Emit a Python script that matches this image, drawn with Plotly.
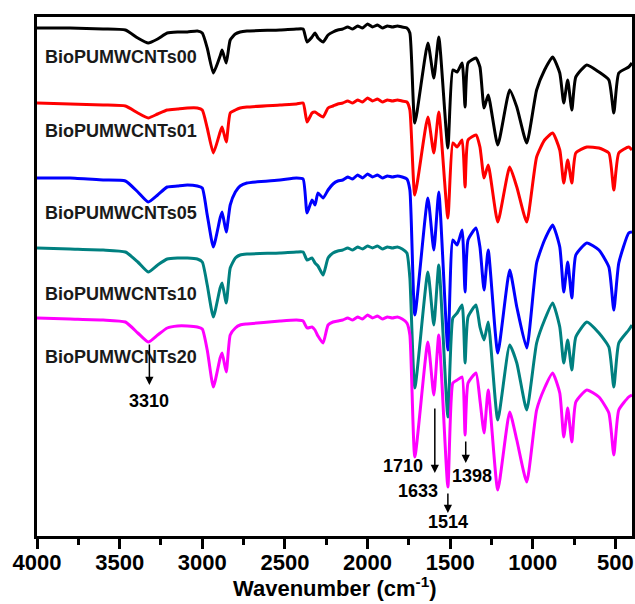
import plotly.graph_objects as go

# Wavenumber grid (cm^-1)
WN = [4000, 3800, 3600, 3465, 3390, 3327, 3270, 3212, 3150, 3090, 3030, 3000, 2970, 2933, 2892, 2880, 2855, 2831, 2800, 2771, 2730,
      2530, 2430, 2390, 2366, 2336, 2318, 2300, 2269, 2239, 2209,
      2180, 2150, 2120, 2090, 2060, 2030, 2000, 1970, 1940, 1910, 1880, 1850, 1820, 1790,
      1762, 1744, 1714, 1635, 1599, 1569, 1514, 1484, 1458, 1428, 1410, 1392, 1344, 1320, 1295, 1270, 1212,
      1140, 1097, 1037, 977, 929, 880, 837, 813, 789, 764, 740, 673, 600, 540, 510, 480, 420, 400]

# Stacked transmittance (a.u.)
T00 = [508, 508, 507, 506, 498, 493, 497, 503, 504, 504, 505, 503, 488, 463, 480, 486, 473, 496, 502, 504, 505,
       506, 507, 507, 494, 499, 503, 498, 494, 501, 504,
       506, 507, 509, 507, 510, 508, 512, 509, 511, 508, 510, 509, 510, 509,
       508, 503, 413, 493, 458, 499, 388, 466, 464, 473, 429, 473, 478, 469, 428, 441, 391,
       446, 429, 393, 446, 466, 479, 463, 433, 456, 426, 459, 471, 464, 456, 423, 463, 469, 473]
T01 = [433, 432, 431, 430, 423, 418, 422, 426, 427, 428, 428, 426, 408, 383, 404, 409, 394, 423, 426, 428, 429,
       431, 432, 433, 414, 423, 424, 422, 419, 428, 430,
       432, 433, 435, 433, 436, 434, 438, 435, 437, 434, 436, 435, 436, 435,
       434, 426, 341, 419, 383, 424, 318, 393, 389, 396, 349, 396, 401, 389, 358, 371, 314,
       369, 349, 314, 379, 396, 403, 386, 353, 376, 353, 383, 389, 388, 383, 346, 383, 389, 386]
T05 = [358, 358, 356, 355, 344, 334, 341, 349, 350, 351, 350, 348, 321, 289, 318, 324, 304, 331, 344, 350, 353,
       356, 358, 357, 323, 336, 331, 343, 338, 346, 352,
       355, 356, 359, 357, 361, 358, 362, 359, 361, 358, 360, 359, 360, 359,
       357, 346, 221, 338, 286, 344, 186, 296, 291, 306, 244, 296, 308, 289, 246, 286, 183,
       266, 229, 188, 273, 296, 311, 289, 244, 274, 238, 281, 293, 286, 269, 226, 273, 303, 304]
T10 = [288, 287, 286, 284, 274, 264, 271, 277, 278, 278, 277, 274, 251, 219, 248, 253, 233, 268, 278, 281, 282,
       283, 284, 284, 276, 278, 273, 270, 261, 278, 283,
       285, 286, 288, 286, 289, 287, 290, 288, 290, 287, 289, 288, 289, 287,
       283, 258, 148, 264, 211, 271, 119, 218, 223, 231, 173, 219, 231, 209, 196, 214, 116,
       191, 173, 126, 193, 216, 233, 209, 173, 196, 166, 199, 214, 203, 189, 149, 193, 206, 211]
T20 = [218, 217, 216, 214, 203, 194, 201, 208, 210, 210, 209, 207, 186, 149, 178, 183, 164, 201, 208, 211, 212,
       215, 216, 215, 208, 209, 206, 200, 193, 211, 214,
       215, 216, 218, 216, 219, 217, 221, 218, 220, 217, 219, 218, 219, 217,
       213, 201, 79, 194, 141, 201, 49, 153, 156, 159, 101, 153, 163, 136, 103, 146, 46,
       124, 96, 54, 126, 148, 163, 143, 99, 128, 94, 134, 146, 139, 123, 81, 126, 139, 141]

NAMES = ["BioPUMWCNTs00", "BioPUMWCNTs01", "BioPUMWCNTs05", "BioPUMWCNTs10", "BioPUMWCNTs20"]
SERIES = [T00, T01, T05, T10, T20]
COLORS = ["#000000", "#FF0000", "#0000FF", "#008080", "#FF00FF"]
LABEL_Y = [479, 405, 323, 242, 179]

# Peak markers: (label, arrow x, arrow tail y, arrow head y, text x, text y)
PEAKS = [("3310", 3320, 193, 151, 3320, 135),
         ("1633", 1593, 129, 63, 1696, 45),
         ("1514", 1514, 44, 23, 1514, 14),
         ("1398", 1406, 96, 73, 1370, 60)]
EXTRA_TEXT = [("1710", 1786, 70)]

FONT = "Liberation Sans, Arial, sans-serif"

fig = go.Figure()
for name, ys, col in zip(NAMES, SERIES, COLORS):
    fig.add_trace(go.Scatter(x=WN, y=ys, mode="lines", name=name,
                             line=dict(color=col, width=3, shape="spline", smoothing=0.5),
                             showlegend=False))

ann = []
for name, ly in zip(NAMES, LABEL_Y):
    ann.append(dict(x=3961, y=ly, xref="x", yref="y", text=name, showarrow=False,
                    xanchor="left", yanchor="middle",
                    font=dict(family=FONT, size=18, color="#1a1a1a", weight="bold")))
for lab, axx, ty, hy, tx, tyy in PEAKS:
    ann.append(dict(x=axx, y=hy, ax=axx, ay=ty, xref="x", yref="y", axref="x", ayref="y",
                    text="", showarrow=True, arrowhead=2, arrowsize=1.1, arrowwidth=1.5,
                    arrowcolor="#000000", standoff=0, startstandoff=0))
    ann.append(dict(x=tx, y=tyy, xref="x", yref="y", text=lab, showarrow=False,
                    xanchor="center", yanchor="middle",
                    font=dict(family=FONT, size=18, color="#000000", weight="bold")))
for lab, tx, tyy in EXTRA_TEXT:
    ann.append(dict(x=tx, y=tyy, xref="x", yref="y", text=lab, showarrow=False,
                    xanchor="center", yanchor="middle",
                    font=dict(family=FONT, size=18, color="#000000", weight="bold")))
# Axis title
ann.append(dict(x=0.5, y=-0.098, xref="paper", yref="paper",
                text="Wavenumber (cm<sup>-1</sup>)", showarrow=False,
                xanchor="center", yanchor="middle",
                font=dict(family=FONT, size=22, color="#000000", weight="bold")))

fig.update_layout(
    width=635, height=604,
    margin=dict(l=37, r=3, t=17, b=68, autoexpand=False),
    paper_bgcolor="white", plot_bgcolor="white",
    annotations=ann,
    xaxis=dict(range=[4000, 400], tickmode="array", automargin=False,
               tickvals=[4000, 3500, 3000, 2500, 2000, 1500, 1000, 500],
               ticks="outside", ticklen=10, tickwidth=2.5, tickcolor="#000000",
               ticklabelstandoff=-5,
               minor=dict(tickvals=[3750, 3250, 2750, 2250, 1750, 1250, 750],
                          ticks="outside", ticklen=6, tickwidth=2.5, tickcolor="#000000"),
               showline=True, linewidth=3, linecolor="#000000", mirror=True,
               showgrid=False, zeroline=False,
               tickfont=dict(family=FONT, size=22, color="#000000", weight="bold")),
    yaxis=dict(range=[0, 519], showticklabels=False, ticks="", automargin=False,
               showline=True, linewidth=3, linecolor="#000000", mirror=True,
               showgrid=False, zeroline=False),
)

fig.write_html("out.html", config={"displayModeBar": False},
               post_script="document.body.style.margin='0';document.body.style.overflow='hidden';")
